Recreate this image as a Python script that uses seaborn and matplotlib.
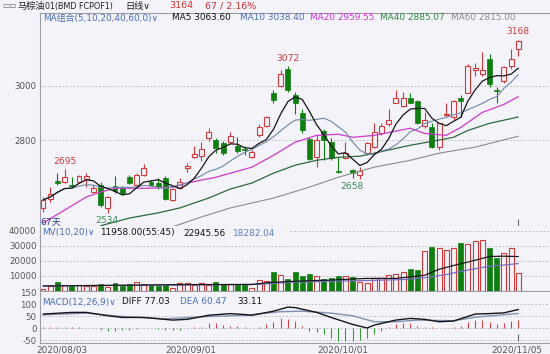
import numpy as np
import pandas as pd
import matplotlib
matplotlib.use('Agg')
import matplotlib.pyplot as plt
import matplotlib.transforms as mtransforms
import seaborn as sns

# ---------------- data ----------------
holidays = ['2020-07-31', '2020-08-20', '2020-08-31', '2020-09-16', '2020-10-29']
dates = [d for d in pd.bdate_range('2020-07-29', '2020-11-05')
         if d.strftime('%Y-%m-%d') not in holidays]
tick_dates = ['2020/08/03', '2020/09/01', '2020/10/01', '2020/11/05']

opens = [2553, 2585, 2651, 2647, 2635, 2647, 2658, 2611, 2636, 2553,
         2633, 2625, 2665, 2636, 2673, 2647, 2644, 2662, 2582, 2625,
         2698, 2738, 2742, 2807, 2800, 2789, 2793, 2778, 2769, 2738,
         2818, 2851, 2971, 3000, 3062, 2967, 2898, 2804, 2738, 2833,
         2793, 2689, 2735, 2691, 2673, 2753, 2775, 2825, 2858, 2938,
         2927, 2953, 2942, 2851, 2847, 2775, 2891, 2884, 2956, 2971,
         3055, 3044, 3098, 2984, 3015, 3073, 3135]
closes = [2582, 2604, 2644, 2665, 2632, 2669, 2669, 2625, 2564, 2593,
          2615, 2607, 2644, 2673, 2698, 2636, 2629, 2585, 2622, 2647,
          2705, 2749, 2767, 2829, 2771, 2753, 2815, 2760, 2766, 2756,
          2847, 2884, 2949, 3044, 2982, 2935, 2836, 2731, 2800, 2800,
          2735, 2686, 2753, 2680, 2687, 2789, 2829, 2851, 2873, 2953,
          2956, 2938, 2862, 2873, 2775, 2862, 2895, 2942, 2945, 3073,
          3065, 3055, 3007, 2981, 3069, 3097, 3164]
highs = [2593, 2629, 2680, 2695, 2665, 2673, 2680, 2636, 2647, 2596,
         2669, 2633, 2673, 2680, 2713, 2655, 2662, 2669, 2625, 2662,
         2716, 2778, 2793, 2844, 2807, 2796, 2829, 2811, 2778, 2764,
         2858, 2887, 2982, 3055, 3072, 2975, 2916, 2811, 2818, 2840,
         2807, 2738, 2793, 2695, 2702, 2793, 2862, 2865, 2913, 2985,
         2978, 2971, 2949, 2902, 2862, 2865, 2938, 2949, 2964, 3080,
         3084, 3124, 3116, 2993, 3073, 3135, 3168]
lows = [2538, 2575, 2636, 2645, 2625, 2644, 2629, 2607, 2556, 2534,
        2607, 2600, 2640, 2629, 2669, 2633, 2622, 2582, 2578, 2622,
        2684, 2735, 2724, 2796, 2753, 2745, 2789, 2753, 2745, 2735,
        2811, 2847, 2938, 2996, 2978, 2895, 2825, 2727, 2702, 2727,
        2727, 2680, 2731, 2662, 2658, 2745, 2771, 2818, 2851, 2935,
        2920, 2935, 2858, 2844, 2771, 2764, 2887, 2876, 2884, 2971,
        3036, 3036, 2993, 2938, 3011, 3062, 3109]
volumes = [1500, 3000, 6000, 4000, 3000, 3800, 3600, 3200, 4500, 2500,
           5500, 3200, 4500, 6200, 4500, 3800, 3500, 4200, 1800, 5200,
           5200, 4200, 5500, 4200, 5800, 4500, 4500, 4200, 4000, 2200,
           7000, 6800, 12600, 10700, 8200, 12600, 10000, 11500, 10000, 7800,
           8900, 10200, 10200, 9500, 6200, 5500, 8900, 8900, 10700, 11500,
           12800, 14800, 13700, 26400, 29500, 28900, 27100, 28900, 31800, 31100,
           33300, 34000, 28900, 21700, 25000, 28400, 11958]

# moving-average lines (bar number -> value)
ma20_day = [0, 3, 6, 8, 10, 15, 18, 20, 24, 29, 32, 35, 38, 41, 43, 46, 51, 53, 56, 58, 61, 64, 66]
ma20_val = [2498, 2545, 2593, 2611, 2625, 2625, 2629, 2644, 2665, 2702, 2745, 2793, 2818,
            2822, 2811, 2818, 2844, 2825, 2818, 2847, 2902, 2931, 2959.55]
ma40_day = [8, 12, 16, 19, 23, 26, 29, 32, 35, 38, 41, 44, 46, 51, 54, 57, 59, 62, 66]
ma40_val = [2488, 2516, 2535, 2553, 2589, 2622, 2644, 2680, 2709, 2727, 2738, 2742, 2753,
            2782, 2796, 2811, 2836, 2862, 2885.07]
ma60_day = [18, 22, 26, 32, 37, 41, 46, 51, 55, 60, 66]
ma60_val = [2484, 2520, 2553, 2589, 2629, 2665, 2702, 2727, 2753, 2775, 2815.00]

mv10_day = [0, 10, 20, 29, 31, 35, 40, 45, 49, 53, 55, 57, 60, 62, 64, 66]
mv10_val = [3300, 3800, 4300, 4300, 5500, 6500, 7300, 8400, 8400, 10500, 14500, 17000,
            20500, 23000, 23200, 22945.56]
mv20_day = [0, 10, 20, 30, 35, 40, 45, 50, 53, 56, 59, 62, 64, 66]
mv20_val = [3500, 3700, 4000, 4500, 6000, 6500, 7000, 7600, 8900, 11000, 14000, 16500,
            17300, 18282.04]

diff_day = [0, 4, 6, 9, 11, 14, 18, 20, 23, 26, 28, 29, 32, 34, 35, 38, 40, 43, 45, 46,
            49, 51, 53, 55, 57, 60, 62, 64, 66]
diff_val = [58, 65, 65, 51, 44, 44, 33, 36, 53, 60, 56, 53, 70, 87, 85, 65, 44, 15, 0, 12,
            33, 40, 36, 26, 29, 58, 60, 63, 77.03]
dea_day = [0, 6, 11, 17, 23, 28, 33, 36, 40, 43, 46, 49, 52, 57, 60, 66]
dea_val = [55, 62, 48, 38, 48, 53, 68, 70, 62, 51, 26, 26, 33, 30, 45, 60.47]
macd_hist = [4, 5, 6, 5, 4, 3, 2, 1,
             -10, -12, -12, -10, -8,
             -3, -2, -2, -3,
             -8, -9, -7,
             2, 3, 4,
             20, 22, 12, 10, 8, 5,
             2, 6, 15, 25, 40, 38, 30, 10,
             -12, -18, -25, -40, -55, -55, -55, -48, -40, -25, -12,
             5, 15, 20, 20, 10, 6, 3,
             0, 2, 3, 10,
             25, 35, 35, 25, 18, 20, 28, 33.11]

price_ticks = [3000, 2800]
vol_ticks = [40000, 30000, 20000, 10000]
macd_ticks = [150, 100, 50, 0, -50]

# ---------------- style ----------------
sns.set_theme(style='white')
plt.rcParams['font.family'] = ['DejaVu Sans', 'Noto Sans CJK SC']

BG = '#f3f3f9'
RED = '#d03a3a'
GREEN = '#0e7f0e'
GRID = '#b4b4bc'
AXC = '#9c9ca4'
TXT = '#555555'
BLUE = '#4a6fb8'
W, H = 550, 354

fig = plt.figure(figsize=(5.5, 3.54), dpi=100, facecolor=BG)


def fbox(x0, y0, x1, y1):
    return [x0 / W, 1 - y1 / H, (x1 - x0) / W, (y1 - y0) / H]


ax_p = fig.add_axes(fbox(40, 13, 550, 226))
ax_v = fig.add_axes(fbox(40, 226, 550, 291), sharex=ax_p)
ax_m = fig.add_axes(fbox(40, 292, 550, 343), sharex=ax_p)

n = len(closes)
x = np.arange(n)
o = np.array(opens, float)
c = np.array(closes, float)
h = np.array(highs, float)
l = np.array(lows, float)
up = c >= o
cols = np.where(up, RED, GREEN)

for ax in (ax_p, ax_v, ax_m):
    ax.set_facecolor(BG)
    for s in ax.spines.values():
        s.set_visible(False)
    ax.spines['left'].set_visible(True)
    ax.spines['left'].set_color(AXC)
    ax.spines['left'].set_linewidth(0.8)
    ax.spines['bottom'].set_visible(True)
    ax.spines['bottom'].set_color(AXC)
    ax.spines['bottom'].set_linewidth(0.8)
    ax.tick_params(axis='y', length=0, pad=2.5, labelsize=6.2, colors=TXT)
    ax.tick_params(axis='x', length=0)
    ax.grid(False)
ax_p.spines['top'].set_visible(True)
ax_p.spines['top'].set_color(AXC)
ax_p.spines['top'].set_linewidth(0.8)

dash = (0, (2.2, 2.2))

# ---------- price panel ----------
ax_p.set_ylim(2487, 3265)
for yv in price_ticks:
    ax_p.axhline(yv, color=GRID, lw=0.6, ls=dash, zorder=1)
ax_p.vlines(x, l, h, colors=cols, linewidth=0.8, zorder=3)
body_lo = np.minimum(o, c)
body_h = np.maximum(np.abs(c - o), 3)
ax_p.bar(x[up], body_h[up], bottom=body_lo[up], width=0.68, facecolor=BG,
         edgecolor=RED, linewidth=0.8, zorder=4)
ax_p.bar(x[~up], body_h[~up], bottom=body_lo[~up], width=0.68, color=GREEN,
         edgecolor=GREEN, linewidth=0.5, zorder=4)

ma5 = pd.Series(c).rolling(5, min_periods=1).mean().values
ma10 = pd.Series(c).rolling(10, min_periods=1).mean().values
sns.lineplot(x=ma60_day, y=ma60_val, ax=ax_p, color='#8c8c8c', linewidth=0.8, zorder=5)
sns.lineplot(x=ma40_day, y=ma40_val, ax=ax_p, color='#2f6a3c', linewidth=0.9, zorder=5)
sns.lineplot(x=ma20_day, y=ma20_val, ax=ax_p, color='#cc3acc', linewidth=0.9, zorder=5)
sns.lineplot(x=x, y=ma10, ax=ax_p, color='#6f86a8', linewidth=0.8, zorder=5)
sns.lineplot(x=x, y=ma5, ax=ax_p, color='#151515', linewidth=0.9, zorder=6)
ax_p.set_yticks(price_ticks)
ax_p.set_yticklabels([str(t) for t in price_ticks])
ax_p.tick_params(labelbottom=False)
ax_p.set_xlabel('')
ax_p.set_ylabel('')

# high / low markers
marks = [(3, 'high', 0), (34, 'high', 0), (66, 'high', 0),
         (9, 'low', -1), (44, 'low', -6)]
for i, kind, dx in marks:
    if kind == 'high':
        ax_p.annotate(f'{highs[i]:.0f}', (i, highs[i]), xytext=(dx, 5.5), textcoords='offset points',
                      ha='center', va='center', fontsize=6.6, color='#c83a3a', zorder=8)
    else:
        ax_p.annotate(f'{lows[i]:.0f}', (i, lows[i]), xytext=(dx, -5), textcoords='offset points',
                      ha='center', va='center', fontsize=6.6, color='#3b8a55', zorder=8)
ax_p.text(0.0, 0.0, '67天', transform=ax_p.transAxes, ha='left', va='bottom',
          fontsize=6.6, color='#2b3f8a', zorder=8)
ax_p.vlines(n - 1, 2487, 2512, colors='#666666', linewidth=0.8, zorder=7)

# ---------- volume panel ----------
ax_v.set_ylim(0, 43333)
for yv in vol_ticks:
    xmin = (290 - 40) / 510 if yv == 40000 else 0
    ax_v.axhline(yv, xmin=xmin, color=GRID, lw=0.6, ls=dash, zorder=1)
v = np.array(volumes, float)
ax_v.bar(x[up], v[up], width=0.68, facecolor=BG, edgecolor=RED, linewidth=0.8, zorder=3)
ax_v.bar(x[~up], v[~up], width=0.68, color=GREEN, edgecolor=GREEN, linewidth=0.5, zorder=3)
sns.lineplot(x=mv20_day, y=mv20_val, ax=ax_v, color='#7a6cc8', linewidth=0.9, zorder=5)
sns.lineplot(x=mv10_day, y=mv10_val, ax=ax_v, color='#1a1a1a', linewidth=0.9, zorder=5)
ax_v.set_yticks(vol_ticks)
ax_v.set_yticklabels([str(t) for t in vol_ticks])
ax_v.tick_params(labelbottom=False)
ax_v.set_xlabel('')
ax_v.set_ylabel('')

# ---------- MACD panel ----------
ax_m.set_ylim(-62.5, 150)
for yv in macd_ticks[1:]:
    xmin = (278 - 40) / 510 if yv == 100 else 0
    ax_m.axhline(yv, xmin=xmin, color=GRID, lw=0.6, ls=dash, zorder=1)
hist = np.array(macd_hist, float)
ax_m.vlines(x, 0, hist, colors=np.where(hist >= 0, '#d04848', '#3a9a3a'), linewidth=0.8, zorder=3)
sns.lineplot(x=dea_day, y=dea_val, ax=ax_m, color='#8090b4', linewidth=1.0, zorder=4)
sns.lineplot(x=diff_day, y=diff_val, ax=ax_m, color='#151515', linewidth=1.0, zorder=5)
ax_m.vlines(n - 1, -54, -25, colors='#666666', linewidth=0.8, zorder=6)
ax_m.set_yticks(macd_ticks)
ax_m.set_yticklabels([str(t) for t in macd_ticks])
ax_m.set_xlabel('')
ax_m.set_ylabel('')
date_str = [d.strftime('%Y/%m/%d') for d in dates]
tick_pos = [date_str.index(t) for t in tick_dates]
ax_m.set_xticks(tick_pos)
ax_m.set_xticklabels(tick_dates)
ax_m.tick_params(axis='x', labelsize=6.4, colors=TXT, pad=1.5)
shifts = [4, -3, -3, -2]
for lab, sh in zip(ax_m.get_xticklabels(), shifts):
    lab.set_transform(lab.get_transform() + mtransforms.ScaledTranslation(sh / 100, 0, fig.dpi_scale_trans))

ax_p.set_xlim(-0.42, 70.4)

# ---------- header texts ----------
def ftxt(xp, yp, s, color, size=6.4, **kw):
    fig.text(xp / W, 1 - yp / H, s, color=color, fontsize=size, ha='left', va='center', **kw)

ftxt(2, 6, '▭▭', '#666666', size=5.5)
ftxt(17, 6, '马棕油', '#222222', size=6.6)
ftxt(45, 6, '01(BMD FCPOF1)', '#222222', size=5.8)
ftxt(125, 6, '日线∨', '#222222', size=6.6)
ftxt(169, 6, '3164', '#d03030', size=6.8)
ftxt(205, 6, '67 / 2.16%', '#d03030', size=6.8)

ftxt(43, 18, 'MA组合(5,10,20,40,60,0)∨', BLUE)
ftxt(172, 18, 'MA5 3063.60', '#111111')
ftxt(240, 18, 'MA10 3038.40', BLUE)
ftxt(310, 18, 'MA20 2959.55', '#cc33cc')
ftxt(380, 18, 'MA40 2885.07', '#2e8b3e')
ftxt(451, 18, 'MA60 2815.00', '#8a8a8a')

ftxt(42, 233, 'MV(10,20)∨', BLUE)
ftxt(100, 233, '11958.00(55:45)', '#111111')
ftxt(183, 233, '22945.56', '#111111')
ftxt(232, 233, '18282.04', '#5b7fc0')

ftxt(42, 302, 'MACD(12,26,9)∨', BLUE)
ftxt(122, 302, 'DIFF 77.03', '#111111')
ftxt(180, 302, 'DEA 60.47', BLUE)
ftxt(237, 302, '33.11', '#111111')

fig.savefig('out.png', dpi=100, facecolor=BG)
